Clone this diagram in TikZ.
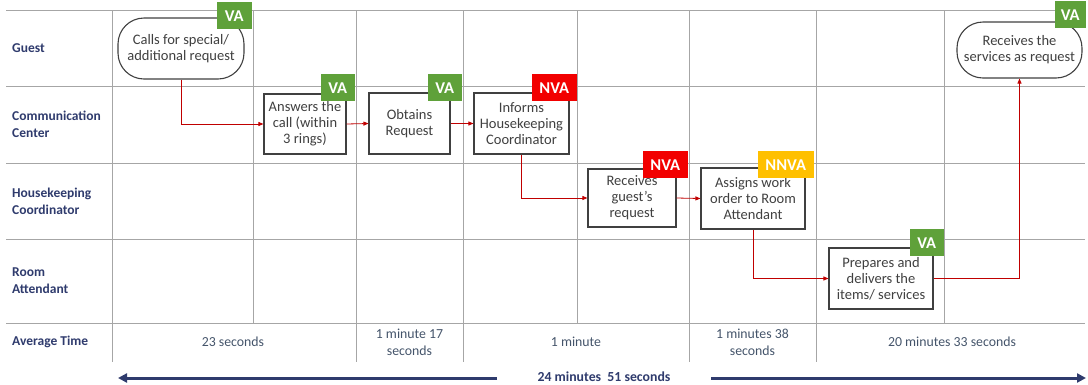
\documentclass[tikz,border=0pt]{standalone}
\usepackage{fontspec}
\setmainfont{Carlito}
\usetikzlibrary{arrows.meta}
\definecolor{lane}{HTML}{2F3B6D}
\definecolor{timec}{HTML}{44546A}
\definecolor{gridc}{HTML}{A6A6A6}
\definecolor{boxc}{HTML}{404040}
\definecolor{vag}{HTML}{5FA13A}
\definecolor{nvar}{HTML}{F20000}
\definecolor{nnvay}{HTML}{FFC000}
\definecolor{flow}{HTML}{C00000}
\begin{document}
\begin{tikzpicture}[x=1pt,y=-1pt,
 gridline/.style={draw=gridc, line width=0.9pt},
 lanelabel/.style={anchor=west, align=left, font=\fontsize{13.5}{17}\selectfont\bfseries, text=lane, inner sep=0},
 timetext/.style={align=center, font=\fontsize{13.8}{17}\selectfont, text=timec, inner sep=0},
 stepbox/.style={draw=boxc, line width=1.1pt, fill=white, align=center, font=\fontsize{14.5}{16}\selectfont, text=boxc, inner sep=1pt},
 termbox/.style={stepbox, rounded corners=26pt},
 badge/.style={anchor=north east, minimum height=27pt, inner sep=2pt, text=white, font=\fontsize{16.5}{18}\selectfont\bfseries},
 va/.style={badge, fill=vag, minimum width=34pt},
 nva/.style={badge, fill=nvar, minimum width=45pt},
 nnva/.style={badge, fill=nnvay, minimum width=56pt},
 flowline/.style={draw=flow, line width=0.8pt, -{Triangle[length=5pt,width=4pt]}},
 totarrow/.style={draw=lane, line width=3pt, -{Triangle[length=9pt,width=9pt]}},
]
\useasboundingbox (0,0) rectangle (1088,384);
% grid
\foreach \yy in {10,86,163,239,323}
  \draw[gridline] (6,\yy) -- (1085,\yy);
\foreach \xx in {112,356,463,689,816}
  \draw[gridline] (\xx,10) -- (\xx,362);
\foreach \xx in {253,577,944}
  \draw[gridline] (\xx,10) -- (\xx,323);
% lane labels
\node[lanelabel] (lg) at (12,48) {Guest};
\node[lanelabel] (lc) at (12,124.5) {Communication\\Center};
\node[lanelabel] (lh) at (12,201) {Housekeeping\\Coordinator};
\node[lanelabel] (lr) at (12,280.5) {Room\\Attendant};
\node[lanelabel] (la) at (12,342) {Average Time};
% times
\node[timetext] (t1) at (233,342) {23 seconds};
\node[timetext] (t2) at (409.5,342) {1 minute 17\\seconds};
\node[timetext] (t3) at (576,342) {1 minute};
\node[timetext] (t4) at (752.5,342) {1 minutes 38\\seconds};
\node[timetext] (t5) at (952,342) {20 minutes 33 seconds};
% steps
\node[termbox, minimum width=126pt, minimum height=61pt] (n1) at (181,48.5) {Calls for special/\\additional request};
\node[stepbox, minimum width=82pt, minimum height=60pt] (n2) at (305,124) {Answers the\\call (within\\3 rings)};
\node[stepbox, minimum width=81pt, minimum height=61pt] (n3) at (409.5,123.5) {Obtains\\Request};
\node[stepbox, minimum width=95pt, minimum height=61pt] (n4) at (521.5,123.5) {Informs\\Housekeeping\\Coordinator};
\node[stepbox, minimum width=88pt, minimum height=58pt] (n5) at (632,198) {Receives\\guest’s\\request};
\node[stepbox, minimum width=104pt, minimum height=61pt] (n6) at (753,198.5) {Assigns work\\order to Room\\Attendant};
\node[stepbox, minimum width=104pt, minimum height=61pt] (n7) at (881,278.5) {Prepares and\\delivers the\\items/ services};
\node[termbox, minimum width=125pt, minimum height=56pt] (n8) at (1019.5,50) {Receives the\\services as request};
% badges
\node[va, minimum width=35pt] (b1) at (252,2) {VA};
\node[va] (b2) at (355,74) {VA};
\node[va] (b3) at (462,74) {VA};
\node[nva] (b4) at (577,74) {NVA};
\node[nva] (b5) at (688,151) {NVA};
\node[nnva] (b6) at (814,151) {NNVA};
\node[va] (b7) at (944,229) {VA};
\node[va, minimum width=31pt] (b8) at (1086,1) {VA};
% flow
\draw[flowline] (n1.south) |- (n2.west);
\draw[flowline] (n2.east) -- (n3.west);
\draw[flowline] (n3.east) -- (n4.west);
\draw[flowline] (n4.south) |- (n5.west);
\draw[flowline] (n5.east) -- (n6.west);
\draw[flowline] (n6.south) |- (n7.west);
\draw[flowline] (n7.east) -| (n8.south);
% total
\node[font=\fontsize{13.8}{16}\selectfont\bfseries, text=lane, inner sep=0] (tot) at (604,376.5) {24 minutes\ \ 51 seconds};
\coordinate (al0) at (497,378);
\coordinate (al1) at (118,378);
\coordinate (ar0) at (711,378);
\coordinate (ar1) at (1086,378);
\draw[totarrow] (al0) -- (al1);
\draw[totarrow] (ar0) -- (ar1);
\end{tikzpicture}
\end{document}
